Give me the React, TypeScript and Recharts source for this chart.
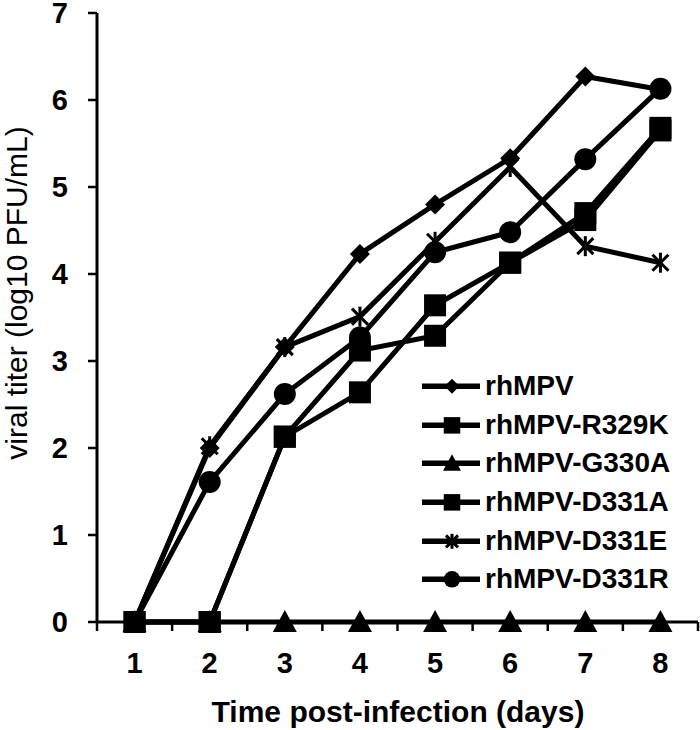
import React from 'react';
import { LineChart, Line, XAxis, YAxis } from 'recharts';

const days = [1, 2, 3, 4, 5, 6, 7, 8];
const yTicks = [0, 1, 2, 3, 4, 5, 6, 7];

const rhMPV = [0, 2.0, 3.16, 4.23, 4.8, 5.33, 6.27, 6.12];
const r329k = [0, 0, 2.13, 3.12, 3.29, 4.13, 4.7, 5.68];
const g330a = [0, 0, 0, 0, 0, 0, 0, 0];
const d331a = [0, 0, 2.13, 2.64, 3.64, 4.13, 4.62, 5.65];
const d331e = [0, 2.02, 3.16, 3.51, 4.37, 5.23, 4.32, 4.13];
const d331r = [0, 1.61, 2.62, 3.27, 4.25, 4.48, 5.32, 6.13];

const series = [
  { key: 'rhMPV', name: 'rhMPV', values: rhMPV, shape: 'diamond' },
  { key: 'r329k', name: 'rhMPV-R329K', values: r329k, shape: 'square' },
  { key: 'g330a', name: 'rhMPV-G330A', values: g330a, shape: 'triangle' },
  { key: 'd331a', name: 'rhMPV-D331A', values: d331a, shape: 'square' },
  { key: 'd331e', name: 'rhMPV-D331E', values: d331e, shape: 'star' },
  { key: 'd331r', name: 'rhMPV-D331R', values: d331r, shape: 'circle' },
];

const data = days.map((d, i) => {
  const row: any = { day: d };
  series.forEach((s) => (row[s.key] = s.values[i]));
  return row;
});

// tick marks sit between the days, like Excel's category axis
const boundaries = [...days.map((d) => d - 0.5), days[days.length - 1] + 0.5];

const FONT = "'Liberation Sans', Arial, sans-serif";
const PLOT_W = 601;
const BAND = PLOT_W / days.length;

const Marker = ({ cx, cy, shape, scale = 1 }: any) => {
  if (cx == null || cy == null) return null;
  const s = 10 * scale;
  switch (shape) {
    case 'diamond':
      return <polygon points={`${cx},${cy - s} ${cx + s},${cy} ${cx},${cy + s} ${cx - s},${cy}`} fill="#000" />;
    case 'square':
      return <rect x={cx - s * 1.1} y={cy - s * 1.1} width={s * 2.2} height={s * 2.2} fill="#000" />;
    case 'triangle':
      return (
        <polygon
          points={`${cx},${cy - s * 1.2} ${cx + s * 1.2},${cy + s} ${cx - s * 1.2},${cy + s}`}
          fill="#000"
        />
      );
    case 'circle':
      return <circle cx={cx} cy={cy} r={s * 1.1} fill="#000" />;
    case 'star':
      return (
        <g stroke="#000" strokeWidth={3}>
          <line x1={cx} y1={cy - s} x2={cx} y2={cy + s} />
          <line x1={cx - s * 0.8} y1={cy - s * 0.8} x2={cx + s * 0.8} y2={cy + s * 0.8} />
          <line x1={cx - s * 0.8} y1={cy + s * 0.8} x2={cx + s * 0.8} y2={cy - s * 0.8} />
        </g>
      );
    default:
      return null;
  }
};

const XTick = ({ x, payload }: any) => {
  const v = payload.value;
  if (v > days[days.length - 1]) return <g />;
  return (
    <text x={x + BAND / 2} y={673} textAnchor="middle" fontFamily={FONT} fontWeight="bold" fontSize={29} fill="#000">
      {v + 0.5}
    </text>
  );
};

const YTitle = () => (
  <text
    x={27}
    y={293}
    transform="rotate(-90, 27, 293)"
    textAnchor="middle"
    fontFamily={FONT}
    fontSize={30}
    fill="#000"
  >
    viral titer (log10 PFU/mL)
  </text>
);

const XTitle = () => (
  <text x={398} y={722} textAnchor="middle" fontFamily={FONT} fontWeight="bold" fontSize={30} fill="#000">
    Time post-infection (days)
  </text>
);

const LegendBox = () => (
  <div style={{ position: 'absolute', left: 422, top: 367, width: 270, fontFamily: FONT }}>
    {series.map((s) => (
      <div key={s.key} style={{ display: 'flex', alignItems: 'center', height: 38.7 }}>
        <svg width={60} height={38.7} style={{ display: 'block' }}>
          <line x1={0} y1={19.35} x2={58} y2={19.35} stroke="#000" strokeWidth={5.5} />
          <Marker cx={30} cy={19.35} shape={s.shape} scale={0.75} />
        </svg>
        <span style={{ marginLeft: 3, fontSize: 28, fontWeight: 'bold', color: '#000', lineHeight: '38.7px' }}>
          {s.name}
        </span>
      </div>
    ))}
  </div>
);

export default function App() {
  return (
    <div style={{ position: 'absolute', left: 0, top: 0, width: 700, height: 730, background: '#fff' }}>
      <LineChart width={700} height={730} data={data} margin={{ top: 13, right: 2, left: 0, bottom: 0 }}>
        <XAxis
          dataKey="day"
          type="number"
          domain={[boundaries[0], boundaries[boundaries.length - 1]]}
          ticks={boundaries}
          interval={0}
          height={108}
          axisLine={{ stroke: '#000', strokeWidth: 3 }}
          tickLine={{ stroke: '#000', strokeWidth: 2.5 }}
          tickSize={9}
          tick={<XTick />}
          label={<XTitle />}
        />
        <YAxis
          domain={[0, 7]}
          ticks={yTicks}
          interval={0}
          width={97}
          axisLine={{ stroke: '#000', strokeWidth: 3 }}
          tickLine={{ stroke: '#000', strokeWidth: 2.5 }}
          tickSize={9}
          tickMargin={20}
          tick={{ fontFamily: FONT, fontWeight: 'bold', fontSize: 29, fill: '#000' }}
          label={<YTitle />}
        />
        {series.map((s) => (
          <Line
            key={s.key}
            dataKey={s.key}
            name={s.name}
            stroke="#000"
            strokeWidth={5}
            isAnimationActive={false}
            dot={(p: any) => <Marker key={`${s.key}-${p.index}`} cx={p.cx} cy={p.cy} shape={s.shape} />}
            activeDot={false}
          />
        ))}
      </LineChart>
      <LegendBox />
    </div>
  );
}
